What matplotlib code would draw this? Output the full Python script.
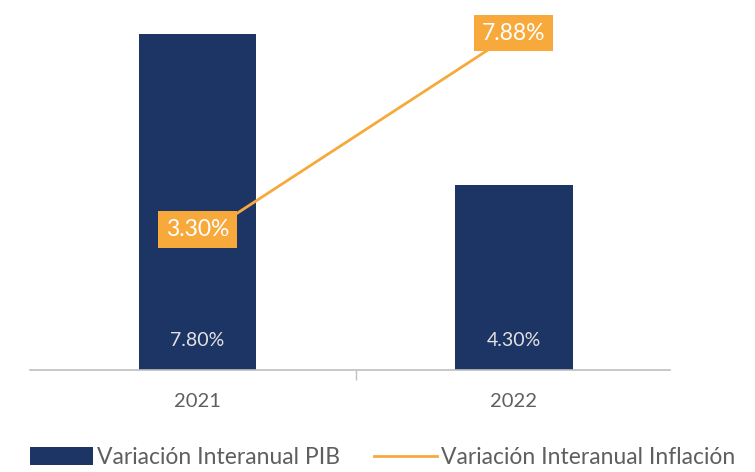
import matplotlib
matplotlib.use("Agg")
import matplotlib.pyplot as plt
import numpy as np

years = ["2021", "2022"]
pib = [7.80, 4.30]
inflacion = [3.30, 7.88]
pib_labels = ["7.80%", "4.30%"]
infl_labels = ["3.30%", "7.88%"]

NAVY = "#1c3564"
ORANGE = "#f7a93c"
GRAY = "#5f5f5f"
AXIS = "#bfbfbf"

plt.rcParams["font.family"] = ["Lato", "DejaVu Sans"]

fig = plt.figure(figsize=(7.55, 4.72), dpi=100)
ax = fig.add_axes([30 / 755, 102 / 472, 640 / 755, 350 / 472])

x = np.arange(len(years))
bars = ax.bar(x, pib, width=0.37, color=NAVY, label="Variación Interanual PIB", zorder=2)

for b, lab in zip(bars, pib_labels):
    ax.text(b.get_x() + b.get_width() / 2, 0.68, lab, ha="center", va="center",
            fontsize=14, color="#e2e2e2", zorder=3)

ax.set_xlim(-0.529, 1.493)
ax.set_ylim(0, 8.12)
ax.set_xticks([0.5])
ax.set_xticklabels([""])
ax.tick_params(axis="x", length=7, color=AXIS, width=1)
ax.set_yticks([])
for s in ["top", "right", "left"]:
    ax.spines[s].set_visible(False)
ax.spines["bottom"].set_color(AXIS)
ax.spines["bottom"].set_linewidth(1.2)
for xi, yr in zip(x, years):
    ax.text(xi, -0.72, yr, ha="center", va="center", fontsize=14.5, color=GRAY,
            clip_on=False)

ax2 = ax.twinx()
ax2.set_ylim(0.39, 8.17)
ax2.axis("off")
line, = ax2.plot(x, inflacion, color=ORANGE, lw=2, label="Variación Interanual Inflación", zorder=4)
offsets = [7, 0]
for xi, v, lab, off in zip(x, inflacion, infl_labels, offsets):
    ax2.annotate(lab, (xi, v), xytext=(0, off), textcoords="offset points",
                 ha="center", va="center", fontsize=16.5, color="white",
                 bbox=dict(boxstyle="square,pad=0.34", fc=ORANGE, ec="none"), zorder=5)

fig.legend(handles=[bars, line], labels=["Variación Interanual PIB", "Variación Interanual Inflación"],
           loc="lower left", bbox_to_anchor=(30 / 755, 4 / 472), ncol=2, frameon=False,
           fontsize=16.5, labelcolor=GRAY, handlelength=2.75, handleheight=0.8,
           handletextpad=0.17, columnspacing=1.5, borderaxespad=0, borderpad=0)

fig.savefig("out.png", dpi=100)
